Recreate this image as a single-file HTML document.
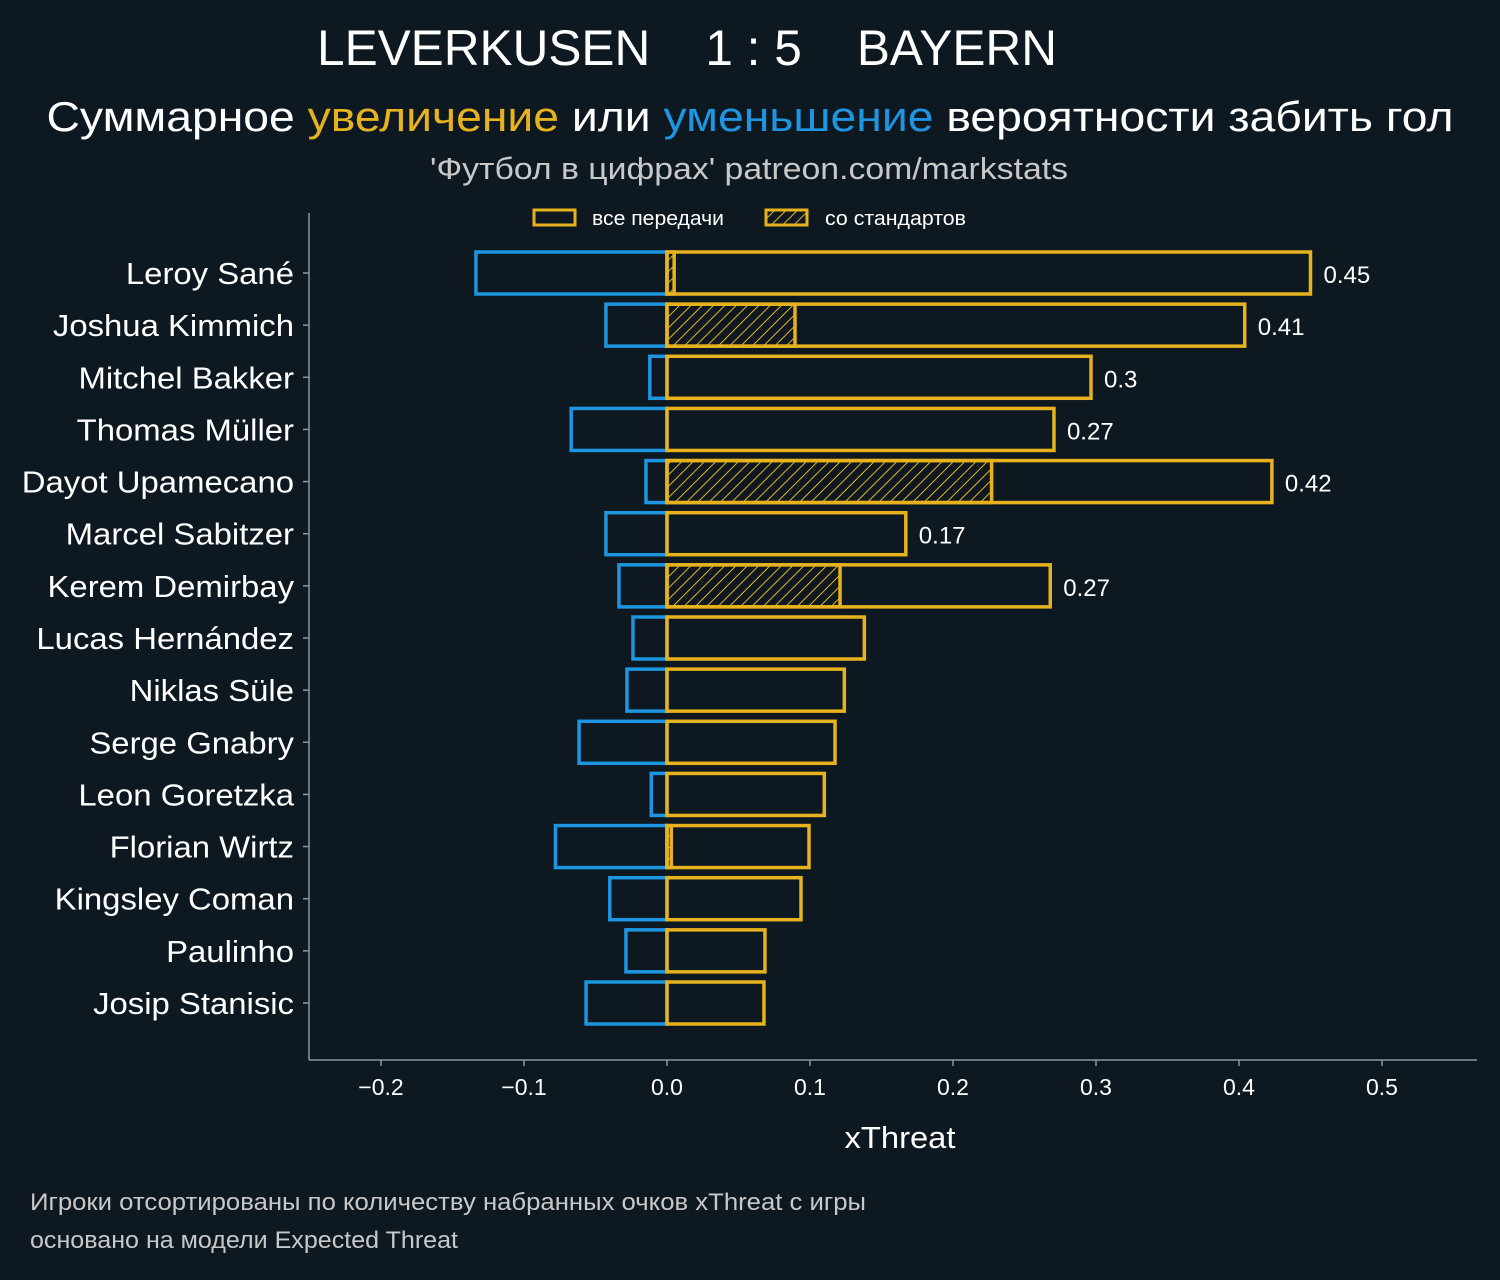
<!DOCTYPE html>
<html><head><meta charset="utf-8">
<style>
html,body{margin:0;padding:0;background:#0e1821;}
body{width:1500px;height:1275px;overflow:hidden;font-family:"Liberation Sans","DejaVu Sans",sans-serif;}
</style></head>
<body>
<svg id="chart" width="1500" height="1275" xmlns="http://www.w3.org/2000/svg" style="font-family:'Liberation Sans','DejaVu Sans',sans-serif">
<defs>
<pattern id="hatch" patternUnits="userSpaceOnUse" width="8" height="8" patternTransform="rotate(45)">
<line x1="0" y1="0" x2="0" y2="8" stroke="#e6b31e" stroke-width="2"/>
</pattern>
</defs>
<rect width="1500" height="1275" fill="#0e1821"/>
<text x="687" y="65" fill="#fff" font-size="50" text-anchor="middle" xml:space="preserve" textLength="740" lengthAdjust="spacingAndGlyphs">LEVERKUSEN    1 : 5    BAYERN</text>
<text x="750" y="131" fill="#fff" font-size="42" text-anchor="middle" textLength="1407" lengthAdjust="spacingAndGlyphs">Суммарное <tspan fill="#e6b31e">увеличение</tspan> или <tspan fill="#1e95e0">уменьшение</tspan> вероятности забить гол</text>
<text x="749" y="179" fill="#c8c8c8" font-size="31" text-anchor="middle" textLength="638" lengthAdjust="spacingAndGlyphs">'Футбол в цифрах' patreon.com/markstats</text>
<g>
<rect x="534" y="210" width="41" height="15" fill="none" stroke="#e6b31e" stroke-width="3"/>
<text x="592" y="225" fill="#fff" font-size="20" textLength="132" lengthAdjust="spacingAndGlyphs">все передачи</text>
<rect x="766" y="210" width="41" height="15" fill="url(#hatch)" stroke="#e6b31e" stroke-width="3"/>
<text x="825" y="225" fill="#fff" font-size="20" textLength="141" lengthAdjust="spacingAndGlyphs">со стандартов</text>
</g>
<g id="plot"></g>
<text x="900" y="1148" fill="#fff" font-size="31" text-anchor="middle" textLength="111" lengthAdjust="spacingAndGlyphs">xThreat</text>
<text x="30" y="1210" fill="#c8c8c8" font-size="24" textLength="836" lengthAdjust="spacingAndGlyphs">Игроки отсортированы по количеству набранных очков xThreat с игры</text>
<text x="30" y="1248" fill="#c8c8c8" font-size="24" textLength="428" lengthAdjust="spacingAndGlyphs">основано на модели Expected Threat</text>
</svg>
<script>
const players=["Leroy Sané","Joshua Kimmich","Mitchel Bakker","Thomas Müller","Dayot Upamecano","Marcel Sabitzer","Kerem Demirbay","Lucas Hernández","Niklas Süle","Serge Gnabry","Leon Goretzka","Florian Wirtz","Kingsley Coman","Paulinho","Josip Stanisic"];
const positive=[0.450,0.404,0.2965,0.2706,0.423,0.167,0.268,0.138,0.124,0.1175,0.110,0.0993,0.0937,0.0685,0.0678];
const negative=[-0.1336,-0.0427,-0.012,-0.067,-0.0147,-0.0427,-0.0336,-0.0238,-0.028,-0.0615,-0.011,-0.078,-0.040,-0.0287,-0.0566];
const setPiece=[0.005,0.0895,0,0,0.227,0,0.121,0,0,0,0,0.003,0,0,0];
const valueLabels=["0.45","0.41","0.3","0.27","0.42","0.17","0.27","","","","","","","",""];
const xTicks=[-0.2,-0.1,0.0,0.1,0.2,0.3,0.4,0.5];
const xTickLabels=["−0.2","−0.1","0.0","0.1","0.2","0.3","0.4","0.5"];

const NS="http://www.w3.org/2000/svg";
const g=document.getElementById('plot');
const x=v=>667+v*1430;
const y=i=>273+i*((1003-273)/14);
const BH=42;
function mk(t,a){const e=document.createElementNS(NS,t);for(const k in a)e.setAttribute(k,a[k]);g.appendChild(e);return e;}
let s=mk('line',{x1:309,y1:213,x2:309,y2:1060,stroke:'#8a969e','stroke-width':1.5});


s=mk('line',{x1:309,y1:1060,x2:1477,y2:1060,stroke:'#8a969e','stroke-width':1.5});


xTicks.forEach((v,i)=>{
  const t=mk('line',{x1:x(v),y1:1060,x2:x(v),y2:1066,stroke:'#8a969e','stroke-width':1.5});
  
  
  const l=mk('text',{x:x(v),y:1095,fill:'#fff','font-size':23,'text-anchor':'middle'});
  l.textContent=xTickLabels[i];
  
  
});
players.forEach((p,i)=>{
  const cy=y(i);
  const t=mk('line',{x1:303,y1:cy,x2:309,y2:cy,stroke:'#8a969e','stroke-width':1.5});
  
  
  const l=mk('text',{x:294,y:cy+11,fill:'#fff','font-size':31,'text-anchor':'end'});
  l.textContent=p;
  
  
  const w=l.getComputedTextLength();
  if(w>0){l.setAttribute('textLength',(w*1.06).toFixed(1));l.setAttribute('lengthAdjust','spacingAndGlyphs');}
  const n=mk('rect',{x:x(negative[i]),y:cy-BH/2,width:x(0)-x(negative[i]),height:BH,fill:'none',stroke:'#1e95e0','stroke-width':3.5});
  
  
  const pb=mk('rect',{x:x(0),y:cy-BH/2,width:x(positive[i])-x(0),height:BH,fill:'none',stroke:'#e6b31e','stroke-width':3.5});
  
  
  if(setPiece[i]>0){
    const sp=mk('rect',{x:x(0),y:cy-BH/2,width:x(setPiece[i])-x(0),height:BH,fill:'url(#hatch)',stroke:'#e6b31e','stroke-width':3.5});
    
    
  }
  if(valueLabels[i]){
    const vl=mk('text',{x:x(positive[i])+13,y:cy+10,fill:'#fff','font-size':24});
    vl.textContent=valueLabels[i];
    
    
  }
});
</script>
</body></html>
